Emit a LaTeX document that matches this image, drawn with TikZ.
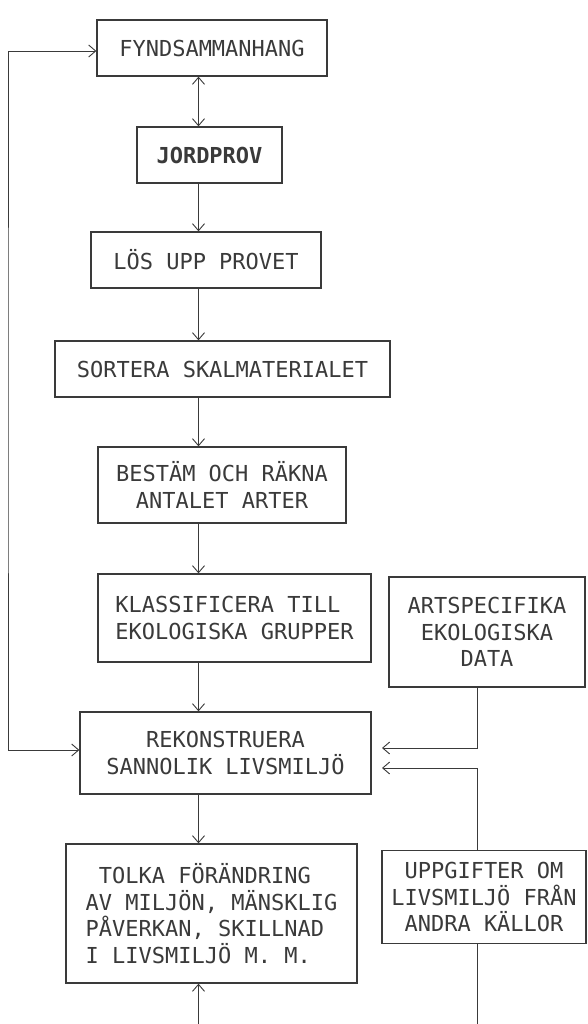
\documentclass[tikz,border=0pt]{standalone}
\usepackage{fontspec}
\newfontfamily\plotfont{DejaVu Sans Mono}
\usetikzlibrary{arrows.meta}
\definecolor{ink}{HTML}{3A3A3A}
\tikzset{
  box/.style={draw=ink, line width=1.3pt, inner sep=0pt, text=ink,
    font=\plotfont\fontsize{22}{26.5}\selectfont\frenchspacing},
  conn/.style={draw=ink, line width=0.9pt},
  arr/.style={conn, -{Straight Barb[length=7pt,width=12pt]}},
  arrboth/.style={conn, {Straight Barb[length=7pt,width=12pt]}-{Straight Barb[length=7pt,width=12pt]}}
}
\begin{document}
\begin{tikzpicture}[x=1pt,y=-1pt]
\fill[white] (0,0) rectangle (588,1024);
\useasboundingbox (0,0) rectangle (588,1024);

% boxes
\node[box, minimum width=230pt, minimum height=56pt] (fynd) at (212,48) {FYNDSAMMANHANG};
\node[box, minimum width=145pt, minimum height=56pt, font=\plotfont\bfseries\fontsize{22}{26.5}\selectfont] (jord) at (209.5,155) {JORDPROV};
\node[box, minimum width=230pt, minimum height=56pt] (los) at (206,260) {LÖS UPP PROVET};
\node[box, minimum width=335pt, minimum height=56pt] (sort) at (222.5,369) {SORTERA SKALMATERIALET};
\node[box, minimum width=248pt, minimum height=76pt, align=center] (best) at (222,485) {BESTÄM OCH RÄKNA\\ANTALET ARTER};
\node[box, minimum width=273pt, minimum height=88pt, align=left] (klass) at (234.5,618) {KLASSIFICERA TILL\\EKOLOGISKA GRUPPER};
\node[box, minimum width=196pt, minimum height=110pt, align=center] (art) at (487,632) {ARTSPECIFIKA\\EKOLOGISKA\\DATA};
\node[box, minimum width=291pt, minimum height=82pt, align=center] (rek) at (225.5,753) {REKONSTRUERA\\SANNOLIK LIVSMILJÖ};
\node[box, minimum width=291pt, minimum height=139pt, align=left] (tolka) at (211.5,913.5) {\phantom{X}TOLKA FÖRÄNDRING\\AV MILJÖN, MÄNSKLIG\\PÅVERKAN, SKILLNAD\\I LIVSMILJÖ M. M.};
\node[box, minimum width=204pt, minimum height=93pt, align=center] (uppg) at (484,897) {UPPGIFTER OM\\LIVSMILJÖ FRÅN\\ANDRA KÄLLOR};

% helper coordinates
\coordinate (xa) at (198.5,0);
\coordinate (xr) at (477,0);
\coordinate (lx) at (8,400);
\coordinate (fy) at (0,51);
\coordinate (ry) at (0,750);
\coordinate (ra1) at (382,748);
\coordinate (ra2) at (382,768);
\coordinate (b1) at (198.5,1024);
\coordinate (b2) at (477,1024);

% main chain
\draw[arrboth] (fynd.south -| xa) -- (jord.north -| xa);
\draw[arr] (jord.south -| xa) -- (los.north -| xa);
\draw[arr] (los.south -| xa) -- (sort.north -| xa);
\draw[arr] (sort.south -| xa) -- (best.north -| xa);
\draw[arr] (best.south -| xa) -- (klass.north -| xa);
\draw[arr] (klass.south -| xa) -- (rek.north -| xa);
\draw[arr] (rek.south -| xa) -- (tolka.north -| xa);
\draw[arr] (b1) -- (tolka.south -| xa);

% feedback loop on the left
\draw[arrboth] (fynd.west |- fy) -| (lx) |- (rek.west |- ry);

% right-hand inputs
\draw[arr] (art.south -| xr) |- (ra1);
\draw[arr] (uppg.north -| xr) |- (ra2);
\draw[conn] (uppg.south -| xr) -- (b2);
\end{tikzpicture}
\end{document}
